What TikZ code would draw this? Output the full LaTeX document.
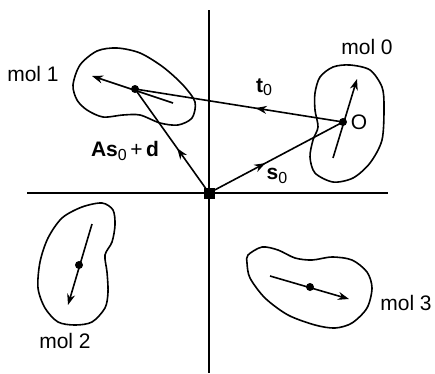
\documentclass[tikz,border=0pt]{standalone}
\usepackage{fontspec}
\setmainfont{Liberation Sans}
\usetikzlibrary{arrows.meta,decorations.markings}
\newcommand{\subidx}[1]{\raisebox{-0.3ex}{\fontsize{16}{16}\selectfont#1}}

\begin{document}
\begin{tikzpicture}[x=1pt,y=-1pt,>={Stealth[length=11pt,width=8pt,inset=3.5pt]},
  blob/.style={line width=1.6pt},
  axis/.style={line width=1.9pt},
  vec/.style={line width=1.6pt,postaction={decorate},
    decoration={markings,mark=at position #1 with {\arrow{>}}}},
  vec/.default=0.42,
  dot/.style={circle,fill,inner sep=0pt,minimum size=8pt},
  lab/.style={font=\fontsize{21}{25}\selectfont}]
  \useasboundingbox (0,0) rectangle (435,373);
  % 座標軸
  \coordinate (xl) at (27,193);  \coordinate (xr) at (388,193);
  \coordinate (yt) at (209,10);  \coordinate (yb) at (209,373);
  \draw[axis] (xl) -- (xr);
  \draw[axis] (yt) -- (yb);
  % 分子の輪郭
  \draw[blob] plot[smooth cycle] coordinates {(320,77) (333,67) (350,65) (370,70)
    (382,87) (384,107) (382,140) (370,163) (353,178) (333,182) (315,173)
    (310,157) (313,140) (318,127) (315,110) (315,93)};
  \draw[blob] plot[smooth cycle] coordinates {(73,85) (80,65) (97,51) (117,48)
    (140,53) (163,67) (183,85) (195,102) (192,118) (178,125) (160,123)
    (140,115) (123,115) (103,117) (87,110) (77,100)};
  \draw[blob] plot[smooth cycle] coordinates {(102,203) (113,210) (115,225)
    (112,242) (105,255) (107,272) (108,292) (105,308) (92,322) (75,325)
    (58,322) (45,308) (38,288) (40,262) (48,238) (62,218) (82,207)};
  \draw[blob] plot[smooth cycle] coordinates {(248,255) (262,247) (278,250)
    (295,258) (312,260) (332,257) (352,260) (367,272) (372,288) (367,308)
    (352,323) (335,328) (315,325) (288,315) (265,298) (250,278) (247,263)};
  % 分子の中心と向き
  \node[dot] (m0) at (343,122) {};
  \node[dot] (m1) at (135,89) {};
  \node[dot] (m2) at (79,265) {};
  \node[dot] (m3) at (310,287) {};
  \node[rectangle,fill,inner sep=0pt,minimum size=11pt] (orig) at (209,193) {};
  \coordinate (m0t) at (333,158); \coordinate (m0h) at (357,79);
  \coordinate (m1t) at (173,103); \coordinate (m1h) at (92,76);
  \coordinate (m2t) at (92,224);  \coordinate (m2h) at (68,305);
  \coordinate (m3t) at (270,276); \coordinate (m3h) at (349,299);
  \foreach \m in {m0,m1,m2,m3}
    \draw[line width=1.6pt,->] (\m t) -- (\m h);
  \draw[vec] (orig.center) -- (m0.center);
  \draw[vec] (m0.center) -- (m1.center);
  \draw[vec=0.43] (orig.center) -- (m1.center);
  % ラベル
  \node[lab] (mol0) at (367,47) {mol 0};
  \node[lab] (mol1) at (33,74) {mol 1};
  \node[lab] (mol2) at (65,341) {mol 2};
  \node[lab] (mol3) at (406,303) {mol 3};
  \node[lab] (o0) at (359,122) {O};
  \node[lab] (t0) at (264,87) {\textbf{t}\subidx{0}};
  \node[lab] (s0) at (277,176) {\textbf{s}\subidx{0}};
  \node[lab] (as0) at (125,151) {\textbf{As}\subidx{0}\,+\,\textbf{d}};
\end{tikzpicture}
\end{document}
